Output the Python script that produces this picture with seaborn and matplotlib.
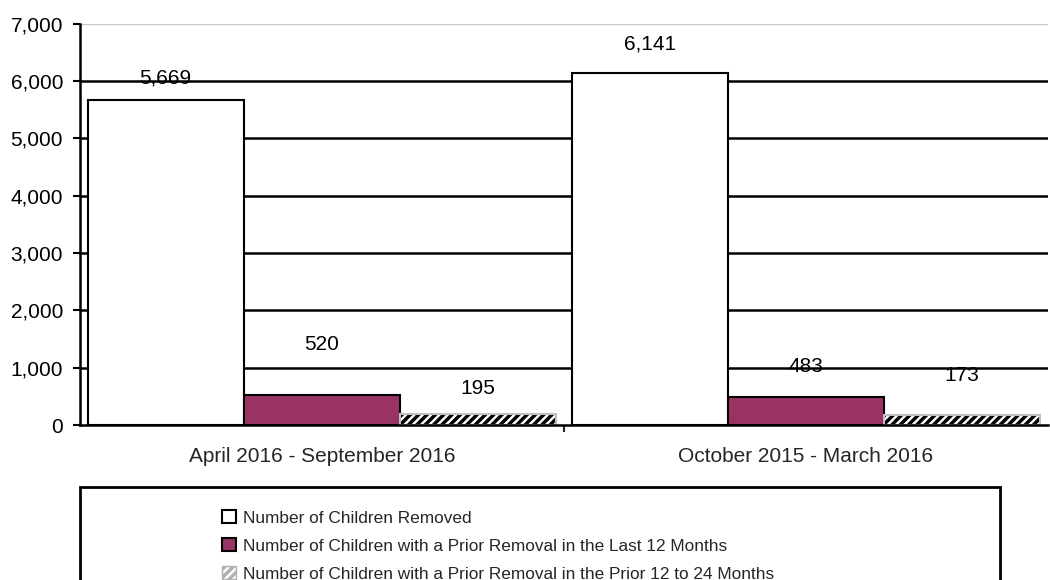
import numpy as np
import pandas as pd
import matplotlib
matplotlib.use("Agg")
import matplotlib.pyplot as plt
import seaborn as sns
from matplotlib.patches import Patch, Rectangle

periods = ["April 2016 - September 2016", "October 2015 - March 2016"]
series = [
    "Number of Children Removed",
    "Number of Children with a Prior Removal in the Last 12 Months",
    "Number of Children with a Prior Removal in the Prior 12 to 24 Months",
]
removed = [5669, 6141]
prior_12 = [520, 483]
prior_24 = [195, 173]

# label centre offsets above each bar (data units), as placed in the original
label_offsets = [[388, 509], [894, 547], [451, 700]]

CRIMSON = "#993366"

sns.set_theme(style="white")
plt.rcParams["font.family"] = ["Liberation Sans", "DejaVu Sans"]
plt.rcParams["hatch.linewidth"] = 2.5

df = pd.DataFrame({
    "period": periods * 3,
    "series": [s for s in series for _ in periods],
    "value": removed + prior_12 + prior_24,
})

fig = plt.figure(figsize=(10.5, 5.8), dpi=100)
ax = fig.add_axes([0.076, 0.267, 0.922, 0.692])

sns.barplot(data=df, x="period", y="value", hue="series", hue_order=series,
            order=periods, width=0.968, ax=ax, legend=False, saturation=1,
            palette=["white", CRIMSON, "white"])

bars = list(ax.patches)
vals = [removed, prior_12, prior_24]
for i, p in enumerate(bars):
    s, k = i // 2, i % 2
    p.set_zorder(3)
    if s < 2:
        p.set_edgecolor("black")
        p.set_linewidth(1.5)
    else:
        p.set_hatch("////")
        p.set_edgecolor("black")
        p.set_linewidth(0)
        ax.add_patch(Rectangle((p.get_x(), p.get_y()), p.get_width(), p.get_height(),
                               fill=False, edgecolor="#c0c0c0", linewidth=1.5, zorder=3))
    v = vals[s][k]
    ax.text(p.get_x() + p.get_width() / 2, v + label_offsets[s][k], f"{v:,}",
            ha="center", va="center", fontsize=15, color="black", zorder=5)

ax.set_ylim(0, 7000)
ax.set_xlim(-0.5, 1.5)
ax.set_yticks(np.arange(0, 7001, 1000))
ax.yaxis.set_major_formatter(matplotlib.ticker.FuncFormatter(lambda v, _: f"{int(v):,}"))
for y in range(1000, 7000, 1000):
    ax.axhline(y, color="black", linewidth=1.8, zorder=1)
ax.axhline(7000, color="#c8c8c8", linewidth=1.0, zorder=1)

ax.set_xlabel("")
ax.set_ylabel("")
for side in ["top", "right"]:
    ax.spines[side].set_visible(False)
for side in ["left", "bottom"]:
    ax.spines[side].set_color("black")
    ax.spines[side].set_linewidth(1.8)
    ax.spines[side].set_zorder(4)

ax.tick_params(axis="y", which="major", left=True, length=5, width=1.5, labelsize=15,
               colors="black", direction="out", pad=7)
ax.tick_params(axis="x", which="major", bottom=False, labelsize=15, pad=10)
ax.set_xticks([0.5], minor=True)
ax.tick_params(axis="x", which="minor", bottom=True, length=5, width=1.5, direction="out")

# legend box
fig.add_artist(Rectangle((80 / 1050, -0.01), 920 / 1050, 0.01 + 93 / 580, transform=fig.transFigure,
                         fill=False, edgecolor="black", linewidth=2))
handles = [
    Patch(facecolor="white", edgecolor="black", linewidth=1.5, label=series[0]),
    Patch(facecolor=CRIMSON, edgecolor="black", linewidth=1.5, label=series[1]),
    Patch(facecolor="white", edgecolor="#b0b0b0", hatch="////", linewidth=1.0, label=series[2]),
]
leg = fig.legend(handles=handles, loc="upper left", bbox_to_anchor=(222 / 1050, 1 - 510 / 580),
                 bbox_transform=fig.transFigure, frameon=False, fontsize=12.4,
                 handlelength=0.8, handleheight=0.8, handletextpad=0.4, labelspacing=0.72,
                 borderaxespad=0, borderpad=0)

fig.savefig("out.png", dpi=100, facecolor="white")
